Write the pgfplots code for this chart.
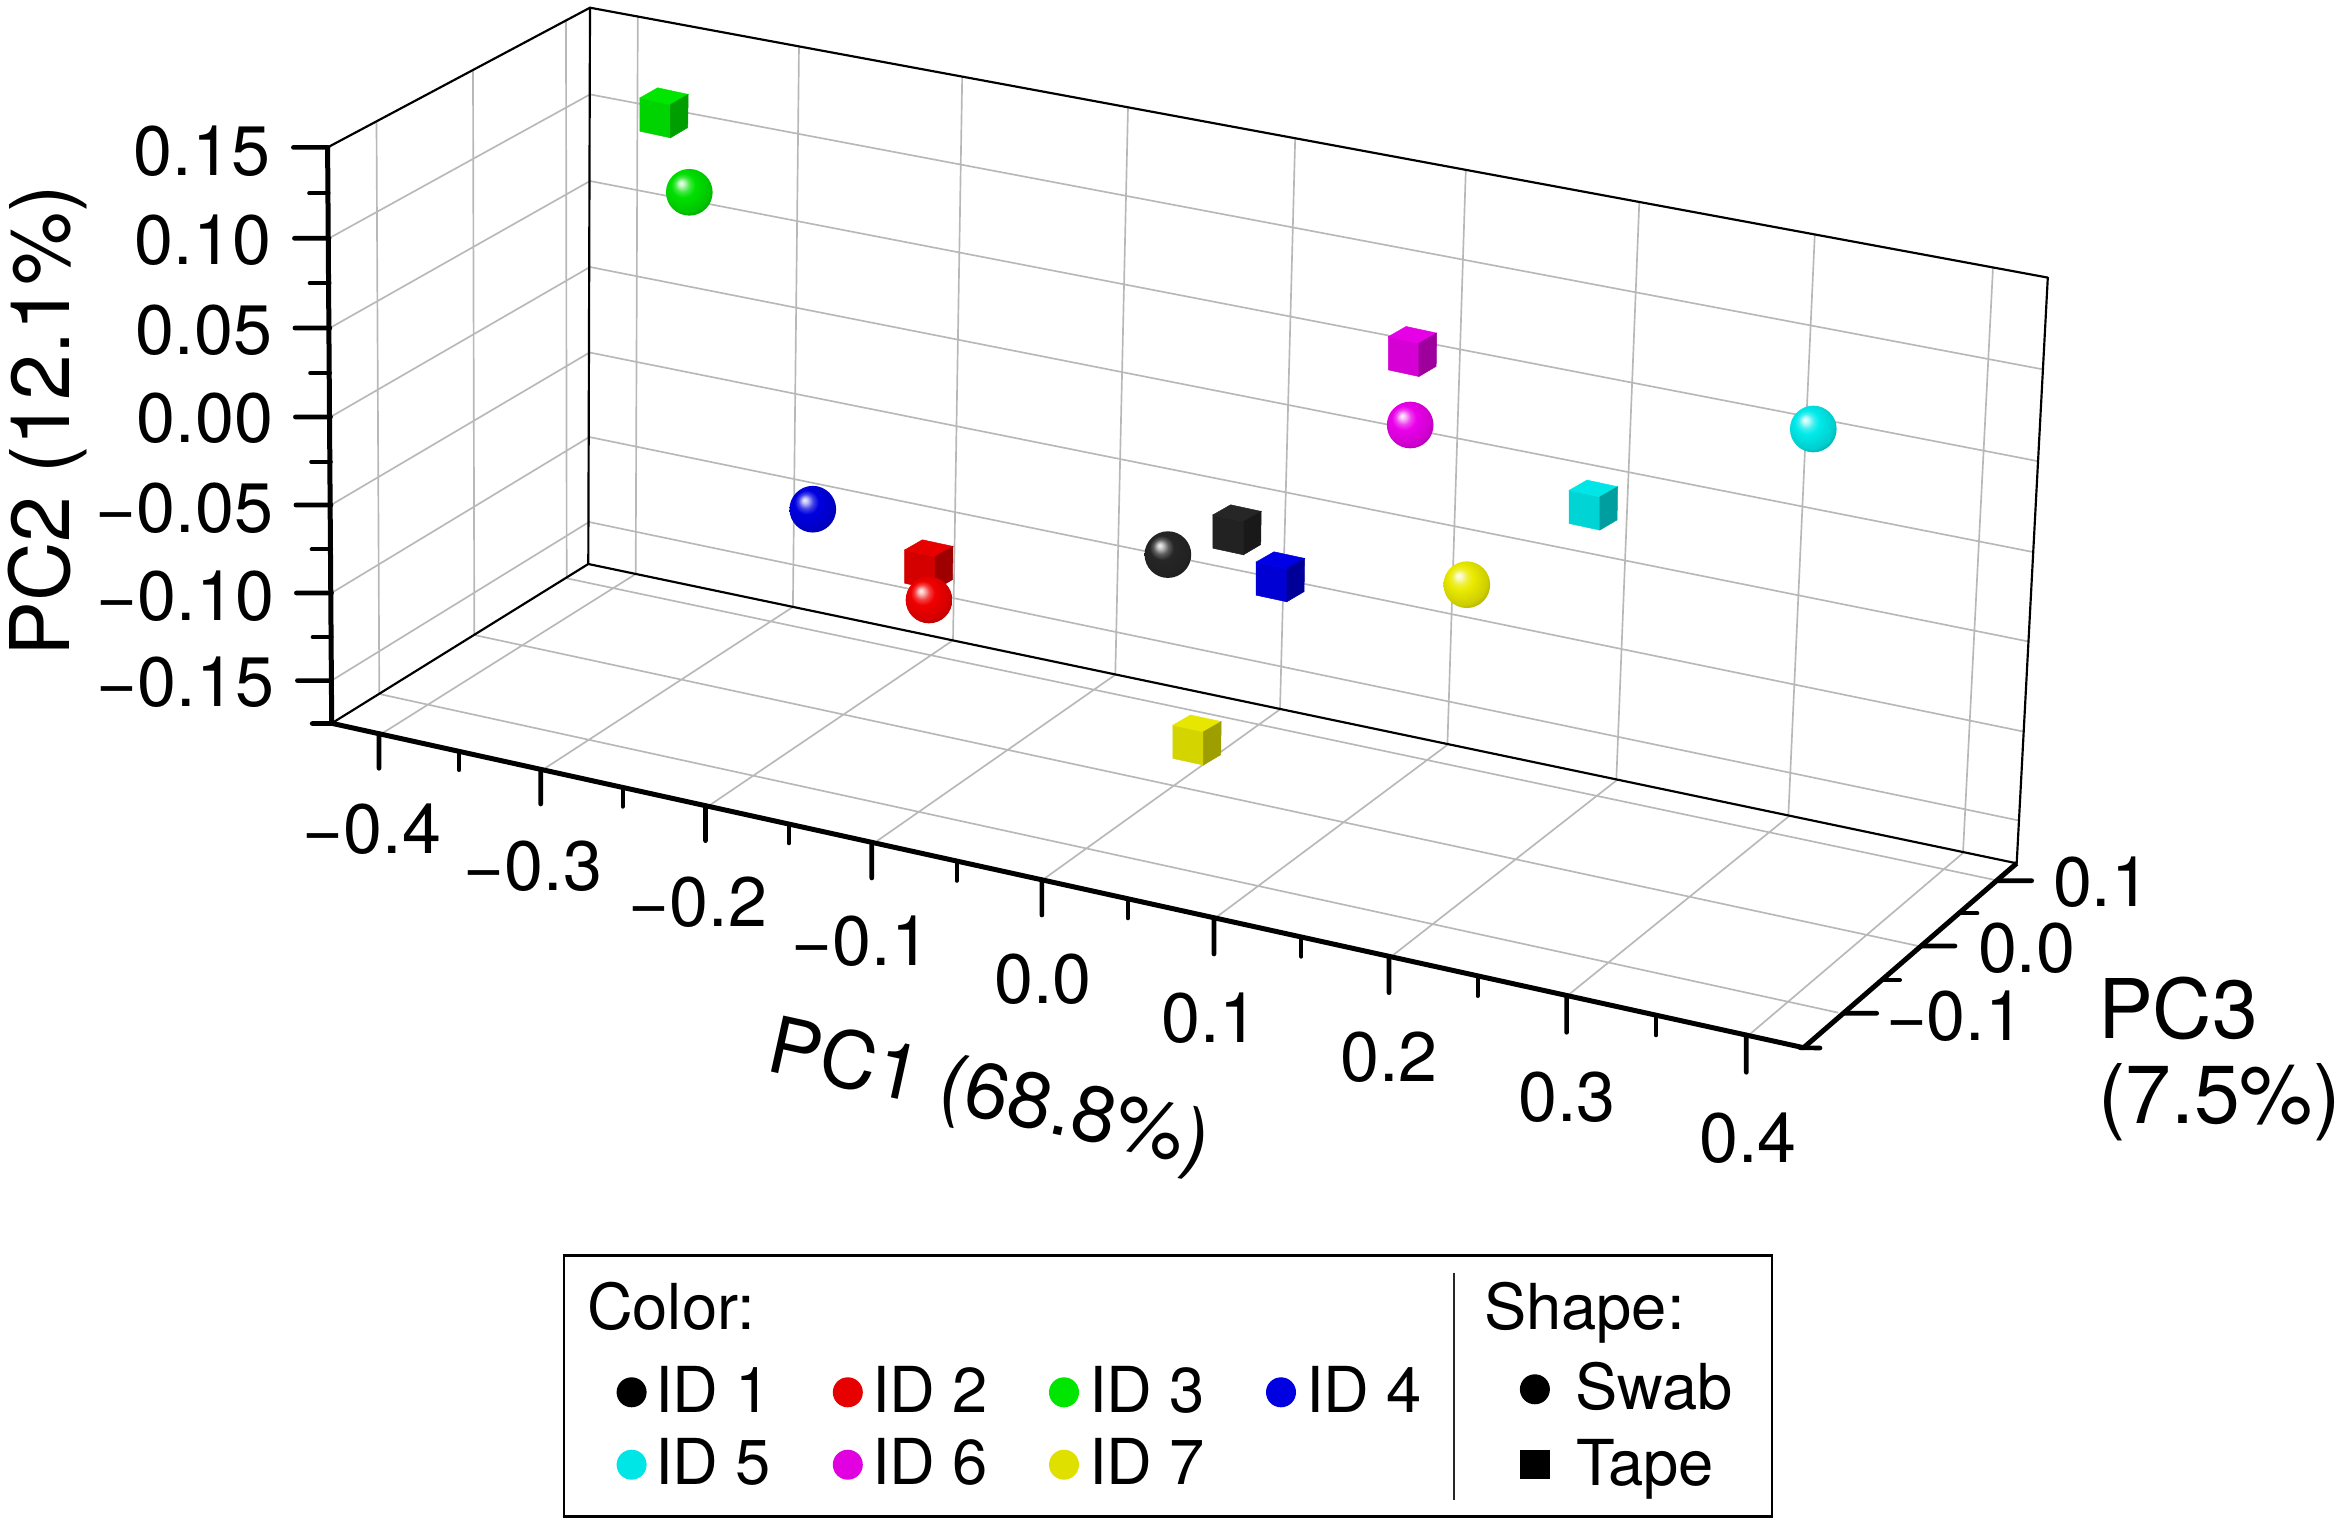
\documentclass[border=0pt]{standalone}
\usepackage{fontspec}
\setmainfont{TeX Gyre Heros}
\usepackage{pgfplots}
\usepackage{pgfplotstable}
\pgfplotsset{compat=1.18}

% the box has perspective, so everything is given in projected picture coords
% (1 unit = 1 px of the reference = 0.3pt)
\newcommand\cface[8]{%
  \pgfpathmoveto{\pgfqpoint{#1pt}{#2pt}}\pgfpathlineto{\pgfqpoint{#3pt}{#4pt}}%
  \pgfpathlineto{\pgfqpoint{#5pt}{#6pt}}\pgfpathlineto{\pgfqpoint{#7pt}{#8pt}}\pgfpathclose}
\newcommand\declareid[5]{%
  \definecolor{f#1}{HTML}{#2}\definecolor{t#1}{HTML}{#3}%
  \definecolor{s#1}{HTML}{#4}\definecolor{b#1}{HTML}{#5}%
  \pgfdeclareradialshading{ball#1}{\pgfpoint{-9bp}{10bp}}{%
    color(0bp)=(b#1!5!white);color(3bp)=(b#1!25!white);color(8bp)=(b#1!75!white);color(13bp)=(b#1);%
    color(26bp)=(b#1!88!black);color(36bp)=(b#1!62!black);color(50bp)=(b#1!55!black)}%
  \pgfdeclareplotmark{sph#1}{%
    \pgfpathcircle{\pgfpointorigin}{7pt}\pgfshadepath{ball#1}{0}\pgfusepath{discard}}%
  \pgfdeclareplotmark{cube#1}{%
    \pgfsetlinewidth{0.15pt}%
    \pgfsetfillcolor{f#1}\pgfsetstrokecolor{f#1}%
    \cface{-7.26}{4.44}{1.92}{2.46}{1.92}{-7.5}{-7.26}{-5.52}\pgfusepath{fill,stroke}%
    \pgfsetfillcolor{t#1}\pgfsetstrokecolor{t#1}%
    \cface{-7.26}{4.44}{-1.92}{7.5}{7.26}{5.52}{1.92}{2.46}\pgfusepath{fill,stroke}%
    \pgfsetfillcolor{s#1}\pgfsetstrokecolor{s#1}%
    \cface{1.92}{2.46}{7.26}{5.52}{7.11}{-4.44}{1.92}{-7.5}\pgfusepath{fill,stroke}}%
}
\declareid{black}{222222}{262626}{191919}{262626}
\declareid{red}{D40000}{E60000}{9E0000}{F00000}
\declareid{green}{00D400}{00E600}{009E00}{00E000}
\declareid{blue}{0000D4}{0000E6}{000099}{0000E0}
\declareid{cyan}{00D4D4}{00E6E6}{009E9E}{00EAEA}
\declareid{magenta}{D400D4}{E600E6}{9E009E}{EA00EA}
\declareid{yellow}{D4D400}{E6E600}{9E9E00}{EAEA00}

\definecolor{gridgray}{HTML}{B8B8B8}
\definecolor{lgreen}{HTML}{00E600}
\definecolor{lred}{HTML}{E60000}
\definecolor{lblue}{HTML}{0000E0}
\definecolor{lcyan}{HTML}{00E6E6}
\definecolor{lmagenta}{HTML}{E000E0}
\definecolor{lyellow}{HTML}{E0E000}

% grid: back wall, left wall, floor
\pgfplotstableread{
x y
637.8 15.3
635.7 574
nan nan
799 45.9
792.9 607
nan nan
962.2 76.5
953 640.3
nan nan
1128 107.3
1115.3 674.8
nan nan
1295.2 138
1280 709.4
nan nan
1465.8 169.9
1447.4 744.9
nan nan
1639.3 202
1616.3 780.6
nan nan
1814.8 234.2
1788.3 816.8
nan nan
1993 267.3
1963 853
nan nan
590 94.4
2043 369.4
nan nan
590 181
2038 461.2
nan nan
590 267
2032.8 552
nan nan
589.6 352.5
2027.4 641.3
nan nan
589.3 437
2023.6 731.6
nan nan
589 522
2018.3 820.4
nan nan
329 238.3
590 94.4
nan nan
329.9 328
590 181
nan nan
330.5 417
590 267
nan nan
331 505
589.6 352.5
nan nan
331.5 593
589.3 437
nan nan
331.6 680.6
589 522
nan nan
376.5 122.4
379.3 694
nan nan
473 70
474.3 635
nan nan
566 19.4
566.7 578.3
nan nan
383.3 732.7
635.7 574
nan nan
545 768.3
792.9 607
nan nan
710 805
953 640.3
nan nan
877 841
1115.3 674.8
nan nan
1044.8 878.3
1280 709.4
nan nan
1217 916.7
1447.4 744.9
nan nan
1393.2 955
1616.3 780.6
nan nan
1568.3 995
1788.3 816.8
nan nan
1750.9 1033.3
1963 853
nan nan
379.3 694
1838.3 1012.7
nan nan
474.3 635
1918.3 946
nan nan
566.7 578.3
1995 880
}\gridlines

% major ticks
\pgfplotstableread{
x y
293.4 147.4
328 147.4
nan nan
294.4 238.3
329 238.3
nan nan
294.9 328
329.9 328
nan nan
295.4 417
330.5 417
nan nan
295.9 505
331 505
nan nan
296.4 593
331.5 593
nan nan
297.4 680.6
331.6 680.6
nan nan
312.2 723.5
331.7 723.5
nan nan
379 733.7
379 768.3
nan nan
540.7 769.4
540.7 804
nan nan
705.5 805.7
705.5 840.7
nan nan
871.8 842.4
871.8 878
nan nan
1041.9 879.8
1041.9 915
nan nan
1214 917.8
1214 954
nan nan
1389 956.3
1389 992.7
nan nan
1566.6 995.5
1566.6 1032.3
nan nan
1746.3 1035
1746.3 1072.3
nan nan
1800 1047.7
1820 1048
nan nan
1845 1013.3
1876.7 1013.3
nan nan
1921.7 946
1955 946
nan nan
1998.3 880.7
2031.7 880.7
}\majorticks

% minor ticks
\pgfplotstableread{
x y
309.2 193.4
328.5 193.4
nan nan
309.7 283.2
329.5 283.2
nan nan
310.2 373
330 373
nan nan
311.2 461.7
330.8 461.7
nan nan
311.7 549.5
331.2 549.5
nan nan
312.7 637.2
331.5 637.2
nan nan
459.3 751.4
459.3 770
nan nan
622.7 787.4
622.7 806.7
nan nan
789 824
789 843.3
nan nan
956.6 861
956.6 880.8
nan nan
1128 898.8
1128 918.3
nan nan
1301.4 937
1301.4 956.7
nan nan
1477.6 975.9
1477.6 996
nan nan
1656 1015.2
1656 1035.3
nan nan
1883.3 980
1900 980
nan nan
1960 913.3
1977.3 913.3
}\minorticks

\newcommand\tl[1]{\fontsize{21}{25}\selectfont #1}
\newcommand\al[1]{\fontsize{24.7}{30}\selectfont #1}
\newcommand\lgd[1]{\fontsize{19}{23}\selectfont #1}

\begin{document}
\begin{tikzpicture}
\tikzset{zero/.style={inner sep=0pt, outer sep=0pt}}
\path[use as bounding box] (0,0) rectangle (702.6pt,457.5pt);
\begin{axis}[
    anchor=south west, at={(0,0)},
    scale only axis, width=702.6pt, height=457.5pt,
    xmin=0, xmax=2342, ymin=0, ymax=1525, y dir=reverse,
    hide axis, clip=false, unbounded coords=jump,
]
% grid
\addplot[gridgray, line width=0.5pt, no marks] table {\gridlines};
% thin box edges
\addplot[black, line width=0.65pt, no marks, line join=round] coordinates {
    (327.6,147.4) (590,7.7) (2047.8,277.6) (2016.7,863.3) (588.3,564) (331.7,723.3)};
\addplot[black, line width=0.65pt, no marks] coordinates {(590,7.7) (588.3,564)};
% thick axes and ticks
\addplot[black, line width=1.4pt, no marks, line cap=round] table {\majorticks};
\addplot[black, line width=1.2pt, no marks, line cap=round] table {\minorticks};
\addplot[black, line width=1.5pt, no marks, line join=round] coordinates {
    (327.6,147.4) (331.7,723.3) (1803.6,1047.7) (2016.7,863.3)};

% tape samples
\addplot[only marks, mark=cubegreen] coordinates {(664,112.8)};
\addplot[only marks, mark=cubered] coordinates {(928.8,564.8)};
\addplot[only marks, mark=cubeblack] coordinates {(1237,529.8)};
\addplot[only marks, mark=cubeblue] coordinates {(1280.4,576.8)};
\addplot[only marks, mark=cubemagenta] coordinates {(1412.5,351.5)};
\addplot[only marks, mark=cubecyan] coordinates {(1593.4,505.1)};
\addplot[only marks, mark=cubeyellow] coordinates {(1197,740)};
% swab samples
\addplot[only marks, mark=sphgreen] coordinates {(689.3,192.3)};
\addplot[only marks, mark=sphblue] coordinates {(812.8,509.2)};
\addplot[only marks, mark=sphred] coordinates {(929,600)};
\addplot[only marks, mark=sphblack] coordinates {(1167.9,554.6)};
\addplot[only marks, mark=sphmagenta] coordinates {(1410.2,425)};
\addplot[only marks, mark=sphcyan] coordinates {(1813.3,429)};
\addplot[only marks, mark=sphyellow] coordinates {(1466.8,584.7)};

% PC2 tick labels
\node[zero, anchor=base east] at (axis cs:270,176) {\tl{0.15}};
\node[zero, anchor=base east] at (axis cs:271,265) {\tl{0.10}};
\node[zero, anchor=base east] at (axis cs:272,354.6) {\tl{0.05}};
\node[zero, anchor=base east] at (axis cs:273,442.9) {\tl{0.00}};
\node[zero, anchor=base east] at (axis cs:273,532) {\tl{−0.05}};
\node[zero, anchor=base east] at (axis cs:274,620) {\tl{−0.10}};
\node[zero, anchor=base east] at (axis cs:274,706.6) {\tl{−0.15}};
% PC1 tick labels
\node[zero, anchor=base] at (axis cs:372,853) {\tl{−0.4}};
\node[zero, anchor=base] at (axis cs:533,890) {\tl{−0.3}};
\node[zero, anchor=base] at (axis cs:698,926.7) {\tl{−0.2}};
\node[zero, anchor=base] at (axis cs:861,965.7) {\tl{−0.1}};
\node[zero, anchor=base] at (axis cs:1043,1003) {\tl{0.0}};
\node[zero, anchor=base] at (axis cs:1210,1042) {\tl{0.1}};
\node[zero, anchor=base] at (axis cs:1389,1081.7) {\tl{0.2}};
\node[zero, anchor=base] at (axis cs:1567,1121.7) {\tl{0.3}};
\node[zero, anchor=base] at (axis cs:1748,1162) {\tl{0.4}};
% PC3 tick labels
\node[zero, anchor=base west] at (axis cs:2053,906.7) {\tl{0.1}};
\node[zero, anchor=base west] at (axis cs:1978,972.7) {\tl{0.0}};
\node[zero, anchor=base west] at (axis cs:1886,1040) {\tl{−0.1}};
% axis titles
\node[zero, rotate=90, anchor=base] at (axis cs:69,421) {\al{PC2 (12.1\%)}};
\node[zero, rotate=-12.4] at (axis cs:989,1098) {\fontsize{23.6}{28}\selectfont PC1 (68.8\%)};
\node[zero, anchor=base west] at (axis cs:2098,1038) {\al{PC3}};
\node[zero, anchor=base west] at (axis cs:2098,1123) {\al{(7.5\%)}};

% legend box
\addplot[black, line width=0.8pt, no marks, line join=miter] coordinates {
    (564,1255.7) (1772,1255.7) (1772,1516.7) (564,1516.7) (564,1255.7) (1772,1255.7)};
\addplot[black!85, line width=0.5pt, no marks] coordinates {(1453.7,1272.7) (1453.7,1500)};
\addplot[only marks, mark=*, mark size=4.3pt, black] coordinates {(631.6,1392.3)};
\addplot[only marks, mark=*, mark size=4.3pt, lred] coordinates {(847.8,1392.3)};
\addplot[only marks, mark=*, mark size=4.3pt, lgreen] coordinates {(1064,1392.3)};
\addplot[only marks, mark=*, mark size=4.3pt, lblue] coordinates {(1281,1392.3)};
\addplot[only marks, mark=*, mark size=4.3pt, lcyan] coordinates {(631.6,1464.7)};
\addplot[only marks, mark=*, mark size=4.3pt, lmagenta] coordinates {(847.8,1464.7)};
\addplot[only marks, mark=*, mark size=4.3pt, lyellow] coordinates {(1064,1464.7)};
\addplot[only marks, mark=*, mark size=4.3pt, black] coordinates {(1534.9,1389.3)};
\addplot[only marks, mark=square*, mark size=4.2pt, black] coordinates {(1534.9,1464.7)};
\node[zero, anchor=base west] at (axis cs:587,1329.3) {\lgd{Color:}};
\node[zero, anchor=base west] at (axis cs:655,1412.3) {\lgd{ID 1}};
\node[zero, anchor=base west] at (axis cs:872,1412.3) {\lgd{ID 2}};
\node[zero, anchor=base west] at (axis cs:1089,1412.3) {\lgd{ID 3}};
\node[zero, anchor=base west] at (axis cs:1306,1412.3) {\lgd{ID 4}};
\node[zero, anchor=base west] at (axis cs:655,1484.3) {\lgd{ID 5}};
\node[zero, anchor=base west] at (axis cs:872,1484.3) {\lgd{ID 6}};
\node[zero, anchor=base west] at (axis cs:1089,1484.3) {\lgd{ID 7}};
\node[zero, anchor=base west] at (axis cs:1484,1329.3) {\lgd{Shape:}};
\node[zero, anchor=base west] at (axis cs:1575,1409) {\lgd{Swab}};
\node[zero, anchor=base west] at (axis cs:1576,1485) {\lgd{Tape}};
\end{axis}
\end{tikzpicture}
\end{document}
